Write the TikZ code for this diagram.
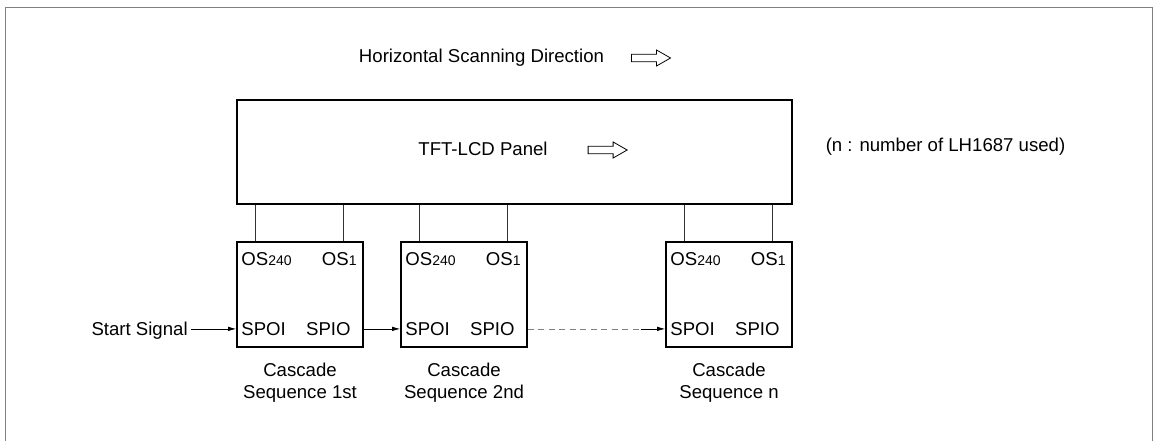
\documentclass[tikz,border=0pt]{standalone}
\usepackage{fontspec}
\setmainfont{Liberation Sans}
\usetikzlibrary{positioning,calc,arrows.meta}

\tikzstyle{chip}=[draw,line width=1.6pt,minimum width=126pt,minimum height=105pt,inner sep=0pt]
\tikzstyle{panel}=[draw,line width=1.6pt,minimum width=555pt,minimum height=104pt,inner sep=0pt]
\tikzstyle{pin}=[draw,line width=0.8pt,black!80]
\tikzstyle{signal}=[draw,line width=0.8pt,-{Latex[length=8pt,width=4.5pt]}]
\tikzstyle{dotsig}=[draw,line width=0.8pt,gray,dash pattern=on 6pt off 4.5pt]
\tikzstyle{caption}=[align=center,inner sep=0pt]
\tikzstyle{pinname}=[inner sep=0pt]
\tikzset{hollowarrow/.pic={\draw[line width=0.8pt] (0,-3.7) -- (25,-3.7) -- (25,-8) -- (39,0) -- (25,8) -- (25,3.7) -- (0,3.7) -- cycle;}}
\newcommand{\pinsub}[1]{{\fontsize{14}{14}\selectfont #1}}

\begin{document}
\begin{tikzpicture}[x=1pt, y=-1pt, font=\fontsize{18.6}{22}\selectfont]
    \useasboundingbox (0,0) rectangle (1155,441);
    % Outer frame, open at the bottom
    \draw[gray,line width=0.8pt] (5,445) -- (5,7) -- (1152,7) -- (1152,445);
    % Heading and the panel
    \node (scan) at (481.5,58) {Horizontal Scanning Direction};
    \path (scan.east) ++(24,0) pic {hollowarrow};
    \node[panel] (lcd) at (514.5,152) {};
    \node (lcdtext) at (483,149) {TFT-LCD Panel};
    \path (lcdtext.east) ++(37,1) pic {hollowarrow};
    \node (note) at (945.5,147) {(n : number of LH1687 used)};
    % Then the driver chips with their pins
    \foreach \pos/\name/\seq in {{(300,294.5)/c1/1st}, {(464,294.5)/c2/2nd}, {(729,294.5)/c3/n}} {
        \node[chip] (\name) at \pos {};
        \node[pinname,anchor=base west] (os240\name) at ($(\name.north west)+(5,24.5)$) {OS\pinsub{240}};
        \node[pinname,anchor=base east] (os1\name) at ($(\name.north east)+(-7,24.5)$) {OS\pinsub{1}};
        \node[pinname,anchor=base west] (spoi\name) at ($(\name.south west)+(5,-12.5)$) {SPOI};
        \node[pinname,anchor=base east] (spio\name) at ($(\name.south east)+(-13,-12.5)$) {SPIO};
        \node[caption,below=15pt of \name] (cap\name) {Cascade\\Sequence \seq};
        \draw[pin] ($(\name.north west)+(19,0)$) coordinate (a) -- (a |- lcd.south);
        \draw[pin] ($(\name.north east)+(-20,0)$) coordinate (b) -- (b |- lcd.south);
    }
    % Connect the start signal through the cascade
    \node[anchor=base east] (start) at ($(spoic1.base west)+(-50,0)$) {Start Signal};
    \draw[signal] (start.east |- spoic1) -- (c1.west |- spoic1);
    \draw[signal] (c1.east |- spioc1) -- (c2.west |- spoic2);
    \draw[dotsig] (c2.east |- spioc2) -- ($(c3.west |- spoic3)+(-24,0)$) coordinate (gap);
    \draw[signal] (gap) -- (c3.west |- spoic3);
\end{tikzpicture}
\end{document}
